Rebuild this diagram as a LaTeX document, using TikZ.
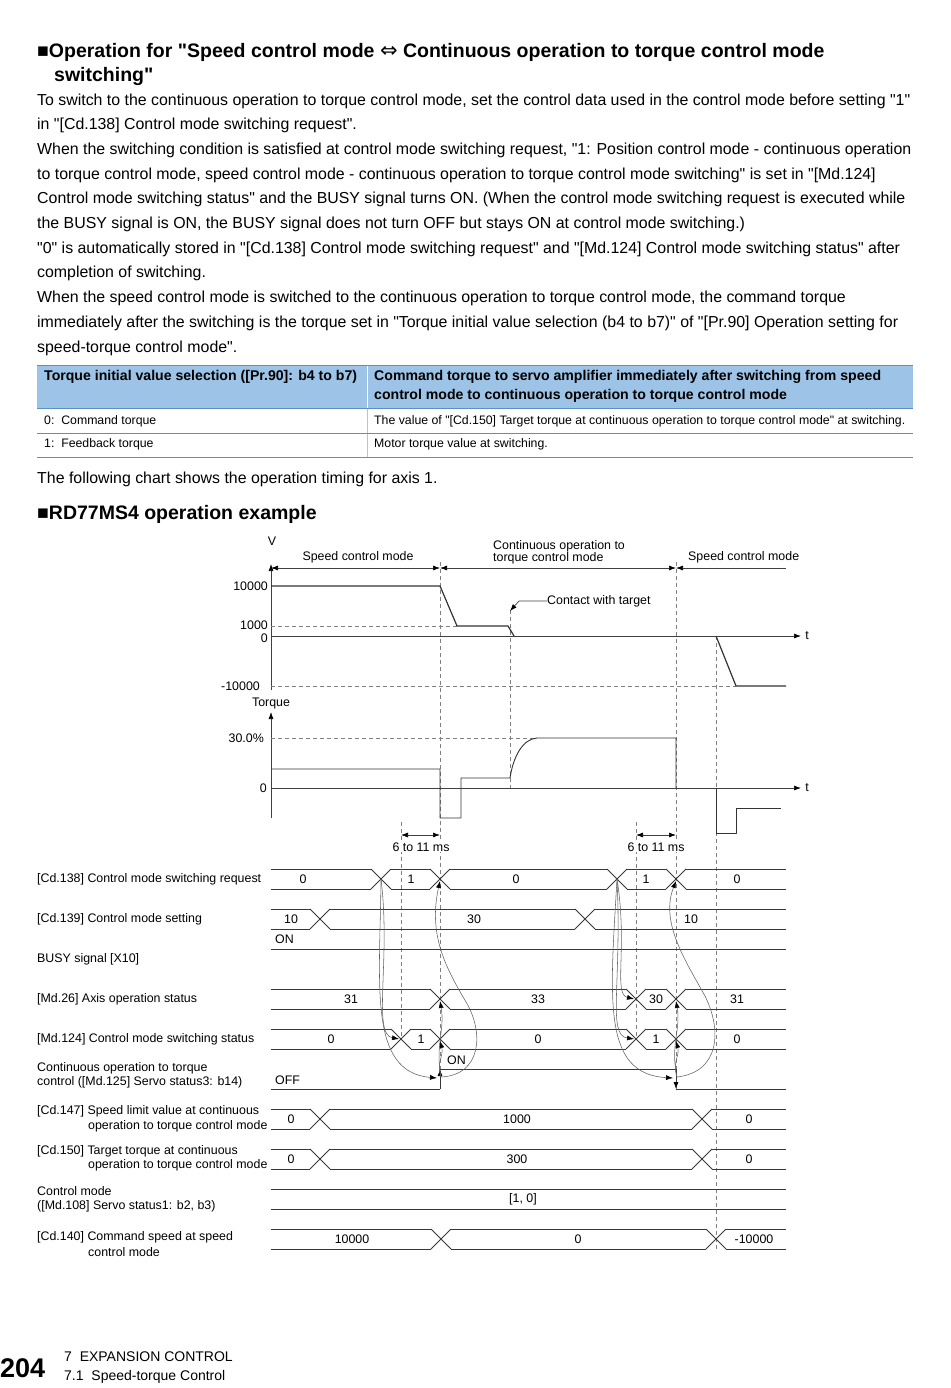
\documentclass[tikz,border=0pt]{standalone}
\usepackage{fontspec}
\setmainfont{Liberation Sans}[Ligatures=TeXOff]
\newfontfamily\dejavu{DejaVu Sans}
\usetikzlibrary{arrows.meta}
\definecolor{hdrblue}{HTML}{9DC3E6}
\definecolor{tblue}{HTML}{5B8FC9}
\definecolor{lblue}{HTML}{A9C8E8}
\begin{document}
\begin{tikzpicture}[x=1pt,y=-1pt,
  txt/.style={anchor=west,inner sep=0pt,font=\fontsize{15.9}{17}\selectfont},
  hd/.style={anchor=west,inner sep=0pt,font=\bfseries\fontsize{19.5}{22}\selectfont},
  tb/.style={anchor=west,inner sep=0pt,font=\fontsize{12.3}{14}\selectfont},
  tbh/.style={anchor=west,inner sep=0pt,font=\bfseries\fontsize{14.1}{15}\selectfont},
  lbl/.style={anchor=west,inner sep=0pt,font=\fontsize{12.4}{13}\selectfont},
  val/.style={inner sep=0pt,font=\fontsize{12.4}{13}\selectfont},
  sig/.style={draw=black!78,line width=0.75pt},
  axis/.style={draw=black!75,line width=0.7pt},
  vdash/.style={draw=black!50,line width=0.6pt,dash pattern=on 4pt off 3pt},
  curv/.style={draw=black!62,line width=0.55pt,-{Latex[length=7pt,width=5pt,color=black]}},
  tip/.style={-{Latex[length=7pt,width=5pt,color=black]}},
  dtip/.style={{Latex[length=7pt,width=5pt,color=black]}-{Latex[length=7pt,width=5pt,color=black]}},
]
\useasboundingbox (0,0) rectangle (950,1388);

% ---------- heading and body text ----------
\node[hd] (h1) at (37,52) {■Operation for "Speed control mode {\dejavu\mdseries\fontsize{21}{22}\selectfont ⇔} Continuous operation to torque control mode};
\node[hd] (h2) at (54,77) {switching"};
\node[txt] (p1) at (37,101) {To switch to the continuous operation to torque control mode, set the control data used in the control mode before setting "1"};
\node[txt] (p2) at (37,125) {in "[Cd.138] Control mode switching request".};
\node[txt] (p3) at (37,150) {When the switching condition is satisfied at control mode switching request, "1: Position control mode - continuous operation};
\node[txt] (p4) at (37,175) {to torque control mode, speed control mode - continuous operation to torque control mode switching" is set in "[Md.124]};
\node[txt] (p5) at (37,199) {Control mode switching status" and the BUSY signal turns ON. (When the control mode switching request is executed while};
\node[txt] (p6) at (37,224) {the BUSY signal is ON, the BUSY signal does not turn OFF but stays ON at control mode switching.)};
\node[txt] (p7) at (37,249) {"0" is automatically stored in "[Cd.138] Control mode switching request" and "[Md.124] Control mode switching status" after};
\node[txt] (p8) at (37,273) {completion of switching.};
\node[txt] (p9) at (37,298) {When the speed control mode is switched to the continuous operation to torque control mode, the command torque};
\node[txt] (p10) at (37,323) {immediately after the switching is the torque set in "Torque initial value selection (b4 to b7)" of "[Pr.90] Operation setting for};
\node[txt] (p11) at (37,348) {speed-torque control mode".};

% ---------- table ----------
\fill[hdrblue] (37,365) rectangle (913,408);
\draw[white,line width=0.8pt] (367,365) -- (367,408);
\draw[lblue,line width=0.6pt] (367,408) -- (367,457);
\draw[tblue,line width=1pt] (37,365) -- (913,365);
\draw[tblue,line width=0.8pt] (37,408) -- (913,408);
\draw[tblue,line width=0.8pt] (37,433) -- (913,433);
\draw[tblue,line width=1pt] (37,457) -- (913,457);
\node[tbh] (t1) at (44,377) {Torque initial value selection ([Pr.90]: b4 to b7)};
\node[tbh] (t2) at (374,377) {Command torque to servo amplifier immediately after switching from speed};
\node[tbh] (t3) at (374,396) {control mode to continuous operation to torque control mode};
\node[tb] (t4) at (44,421) {0:\ \ Command torque};
\node[tb] (t5) at (374,421) {The value of "[Cd.150] Target torque at continuous operation to torque control mode" at switching.};
\node[tb] (t6) at (44,444) {1:\ \ Feedback torque};
\node[tb] (t7) at (374,444) {Motor torque value at switching.};

\node[txt] (f1) at (37,479) {The following chart shows the operation timing for axis 1.};
\node[hd] (h3) at (37,514) {■RD77MS4 operation example};

% ---------- speed chart ----------
\draw[vdash] (440,562) -- (440,1089);
\draw[vdash] (676,562) -- (676,1089);
\draw[vdash] (510,610) -- (510,790);
\draw[vdash] (716,636) -- (716,1252);
\draw[vdash] (401,822) -- (401,1040);
\draw[vdash] (636,822) -- (636,1040);

\draw[axis,tip] (271,690) -- (271,564);
\node[val] (vl) at (272,541) {V};
\draw[axis,dtip] (271,568) -- (440,568);
\draw[axis,dtip] (440,568) -- (676,568);
\draw[axis,{Latex[length=7pt,width=5pt,color=black]}-] (676,568) -- (786,568);
\node[val] (m1) at (358,557) {Speed control mode};
\node[val,anchor=west] (m2) at (493,546) {Continuous operation to};
\node[val,anchor=west] (m3) at (493,558) {torque control mode};
\node[val,anchor=west] (m4) at (688,557) {Speed control mode};

\draw[vdash] (271,626) -- (457,626);
\draw[vdash] (271,686) -- (736,686);
\draw[axis,tip] (271,636) -- (801,636);
\node[val] (tv) at (807,636) {t};
\node[val,anchor=east] (y1) at (268,586) {10000};
\node[val,anchor=east] (y2) at (268,625) {1000};
\node[val,anchor=east] (y3) at (268,638) {0};
\node[val,anchor=east] (y4) at (260,686) {-10000};
\draw[black!80,line width=1.2pt,line join=round] (271,586) -- (440,586) -- (457,626) -- (508,626) -- (514,636);
\draw[black!80,line width=1.2pt,line join=round] (716,636) -- (736,686) -- (786,686);
\node[val,anchor=west] (ct) at (547,601) {Contact with target};
\coordinate (ctk) at (519,601);
\draw[axis,tip] (ct.west) -- (ctk) -- (510,611);

% ---------- torque chart ----------
\draw[axis,tip] (271,818) -- (271,712);
\node[val] (tq) at (271,704) {Torque};
\node[val,anchor=east] (y5) at (264,738) {30.0\%};
\draw[vdash] (271,738) -- (535,738);
\draw[axis,tip] (271,788) -- (801,788);
\node[val] (tt) at (807,788) {t};
\node[val,anchor=east] (y6) at (267,788) {0};
\draw[black!80,line width=0.9pt,line join=round] (271,769) -- (440,769) -- (440,818) -- (461,818) -- (461,778) -- (510,778)
   .. controls (513,758) and (522,739) .. (537,738) -- (676,738) -- (676,788);
\draw[black!80,line width=0.9pt,line join=round] (716,788) -- (716,833) -- (736,833) -- (736,808) -- (781,808);

\draw[axis,dtip] (401,835) -- (440,835);
\draw[axis,dtip] (636,835) -- (676,835);
\node[val,fill=white,inner sep=1pt] (ms1) at (421,847) {6 to 11 ms};
\node[val,fill=white,inner sep=1pt] (ms2) at (656,847) {6 to 11 ms};

% ---------- timing rows ----------
% Cd.138
\draw[sig] (271,869)--(371,869) (391,869)--(430,869) (450,869)--(607,869) (627,869)--(666,869) (686,869)--(786,869);
\draw[sig] (271,889)--(371,889) (391,889)--(430,889) (450,889)--(607,889) (627,889)--(666,889) (686,889)--(786,889);
\foreach \c in {381,440,617,676} {\draw[sig] (\c-10,869)--(\c+10,889) (\c-10,889)--(\c+10,869);}
% Cd.139
\draw[sig] (271,909)--(310,909) (330,909)--(575,909) (595,909)--(786,909);
\draw[sig] (271,929)--(310,929) (330,929)--(575,929) (595,929)--(786,929);
\foreach \c in {320,585} {\draw[sig] (\c-10,909)--(\c+10,929) (\c-10,929)--(\c+10,909);}
% BUSY
\draw[sig] (271,949)--(786,949);
% Md.26
\draw[sig] (271,989)--(430,989) (450,989)--(626,989) (646,989)--(666,989) (686,989)--(786,989);
\draw[sig] (271,1009)--(430,1009) (450,1009)--(626,1009) (646,1009)--(666,1009) (686,1009)--(786,1009);
\foreach \c in {440,636,676} {\draw[sig] (\c-10,989)--(\c+10,1009) (\c-10,1009)--(\c+10,989);}
% Md.124
\draw[sig] (271,1029)--(391,1029) (411,1029)--(430,1029) (450,1029)--(626,1029) (646,1029)--(666,1029) (686,1029)--(786,1029);
\draw[sig] (271,1049)--(391,1049) (411,1049)--(430,1049) (450,1049)--(626,1049) (646,1049)--(666,1049) (686,1049)--(786,1049);
\foreach \c in {401,440,636,676} {\draw[sig] (\c-10,1029)--(\c+10,1049) (\c-10,1049)--(\c+10,1029);}
% Md.125
\draw[sig] (271,1089)--(440,1089);
\draw[sig] (440,1069)--(676,1069);
\draw[sig] (676,1089)--(786,1089);
\draw[sig,tip] (440,1089)--(440,1069);
\draw[sig,tip] (676,1069)--(676,1089);
% Cd.147
\draw[sig] (271,1109)--(310,1109) (330,1109)--(692,1109) (712,1109)--(786,1109);
\draw[sig] (271,1129)--(310,1129) (330,1129)--(692,1129) (712,1129)--(786,1129);
\foreach \c in {320,702} {\draw[sig] (\c-10,1109)--(\c+10,1129) (\c-10,1129)--(\c+10,1109);}
% Cd.150
\draw[sig] (271,1149)--(310,1149) (330,1149)--(692,1149) (712,1149)--(786,1149);
\draw[sig] (271,1169)--(310,1169) (330,1169)--(692,1169) (712,1169)--(786,1169);
\foreach \c in {320,702} {\draw[sig] (\c-10,1149)--(\c+10,1169) (\c-10,1169)--(\c+10,1149);}
% Control mode
\draw[sig] (271,1189)--(786,1189) (271,1209)--(786,1209);
% Cd.140
\draw[sig] (271,1229)--(431,1229) (451,1229)--(706,1229) (726,1229)--(786,1229);
\draw[sig] (271,1249)--(431,1249) (451,1249)--(706,1249) (726,1249)--(786,1249);
\foreach \c in {441,716} {\draw[sig] (\c-10,1229)--(\c+10,1249) (\c-10,1249)--(\c+10,1229);}

% values
\node[val] (v1) at (303,879) {0};
\node[val] (v2) at (411,879) {1};
\node[val] (v3) at (516,879) {0};
\node[val] (v4) at (646,879) {1};
\node[val] (v5) at (737,879) {0};
\node[val] (v6) at (291,919) {10};
\node[val] (v7) at (474,919) {30};
\node[val] (v8) at (691,919) {10};
\node[val,anchor=west] (v9) at (275,939) {ON};
\node[val] (v10) at (351,999) {31};
\node[val] (v11) at (538,999) {33};
\node[val] (v12) at (656,999) {30};
\node[val] (v13) at (737,999) {31};
\node[val] (v14) at (331,1039) {0};
\node[val] (v15) at (421,1039) {1};
\node[val] (v16) at (538,1039) {0};
\node[val] (v17) at (656,1039) {1};
\node[val] (v18) at (737,1039) {0};
\node[val,anchor=west] (v19) at (447,1060) {ON};
\node[val,anchor=west] (v20) at (275,1080) {OFF};
\node[val] (v21) at (291,1119) {0};
\node[val] (v22) at (517,1119) {1000};
\node[val] (v23) at (749,1119) {0};
\node[val] (v24) at (291,1159) {0};
\node[val] (v25) at (517,1159) {300};
\node[val] (v26) at (749,1159) {0};
\node[val] (v27) at (523,1199) {[1, 0]};
\node[val] (v28) at (352,1239) {10000};
\node[val] (v29) at (578,1239) {0};
\node[val] (v30) at (754,1239) {-10000};

% left labels
\node[lbl] (r1) at (37,879) {[Cd.138] Control mode switching request};
\node[lbl] (r2) at (37,919) {[Cd.139] Control mode setting};
\node[lbl] (r3) at (37,959) {BUSY signal [X10]};
\node[lbl] (r4) at (37,999) {[Md.26] Axis operation status};
\node[lbl] (r5) at (37,1039) {[Md.124] Control mode switching status};
\node[lbl] (r6a) at (37,1068) {Continuous operation to torque};
\node[lbl] (r6b) at (37,1082) {control ([Md.125] Servo status3: b14)};
\node[lbl] (r7a) at (37,1111) {[Cd.147] Speed limit value at continuous};
\node[lbl] (r7b) at (88,1126) {operation to torque control mode};
\node[lbl] (r8a) at (37,1151) {[Cd.150] Target torque at continuous};
\node[lbl] (r8b) at (88,1165) {operation to torque control mode};
\node[lbl] (r9a) at (37,1191) {Control mode};
\node[lbl] (r9b) at (37,1206) {([Md.108] Servo status1: b2, b3)};
\node[lbl] (r10a) at (37,1237) {[Cd.140] Command speed at speed};
\node[lbl] (r10b) at (88,1252) {control mode};

% ---------- cause/effect curves ----------
\coordinate (A) at (381,879);
\coordinate (B) at (440,881);
\coordinate (Ma) at (399,1039);
\coordinate (Mb) at (440,1041);
\coordinate (Nb) at (440,1001);
\coordinate (S) at (437,1078);
\coordinate (S0) at (441,1077);
\draw[curv] (A) .. controls (391,960) and (372,1034) .. (Ma);
\draw[curv] (A) .. controls (380,985) and (368,1072) .. (S);
\draw[curv] (S0) .. controls (482,1075) and (484,1032) .. (466,1002) .. controls (446,968) and (428,935) .. (B);
\draw[curv] (S0) .. controls (436,1062) and (444,1056) .. (Mb);
\draw[curv] (S0) .. controls (435,1045) and (445,1030) .. (Nb);

\coordinate (A2) at (617,879);
\coordinate (B2) at (676,881);
\coordinate (Ma2) at (634,999);
\coordinate (Mc2) at (634,1039);
\coordinate (Mb2) at (676,1041);
\coordinate (Nb2) at (676,1001);
\coordinate (S2) at (673,1078);
\coordinate (S20) at (677,1077);
\draw[curv] (A2) .. controls (628,948) and (613,994) .. (Ma2);
\draw[curv] (A2) .. controls (622,985) and (607,1035) .. (Mc2);
\draw[curv] (A2) .. controls (610,1000) and (602,1074) .. (S2);
\draw[curv] (S20) .. controls (720,1072) and (722,1030) .. (705,996) .. controls (685,960) and (660,922) .. (B2);
\draw[curv] (S20) .. controls (672,1062) and (680,1056) .. (Mb2);
\draw[curv] (S20) .. controls (670,1045) and (681,1030) .. (Nb2);

% ---------- footer ----------
\node[anchor=west,inner sep=0pt,font=\bfseries\fontsize{27}{30}\selectfont] (pg) at (0,1368) {204};
\node[anchor=west,inner sep=0pt,font=\fontsize{14}{16}\selectfont] (ft1) at (64,1357) {7\ \ EXPANSION CONTROL};
\node[anchor=west,inner sep=0pt,font=\fontsize{14}{16}\selectfont] (ft2) at (64,1377) {7.1\ \ Speed-torque Control};
\end{tikzpicture}
\end{document}
